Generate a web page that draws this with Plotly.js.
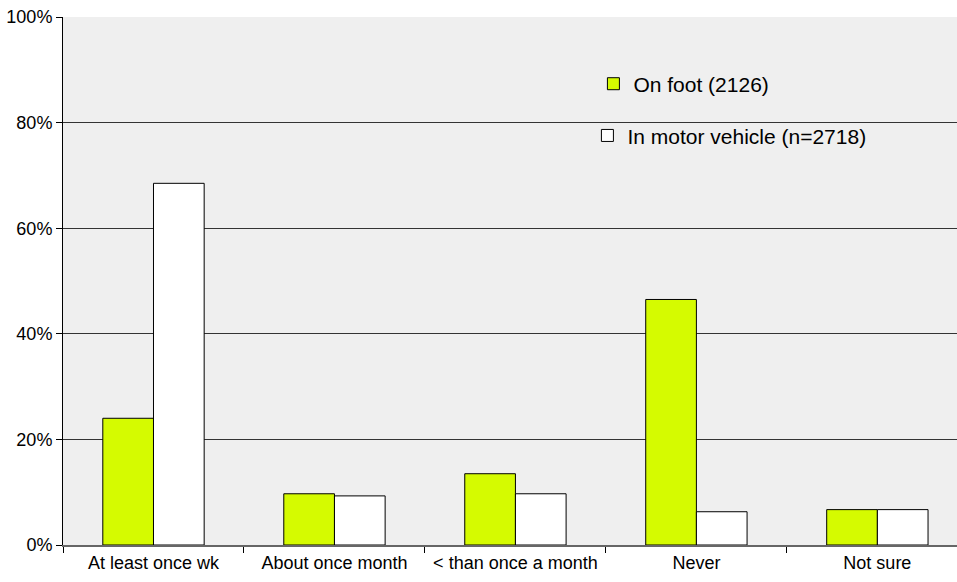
<!DOCTYPE html>
<html>
<head>
<meta charset="utf-8">
<script src="https://cdn.plot.ly/plotly-3.0.1.min.js"></script>
<style>html,body{margin:0;padding:0;background:#fff;}#chart{width:957px;height:582px;}</style>
</head>
<body>
<div id="chart"></div>
<script>
const categories = ["At least once wk", "About once month", "< than once a month", "Never", "Not sure"];
const onFoot = [0.240, 0.097, 0.135, 0.465, 0.067];
const inMotorVehicle = [0.685, 0.093, 0.097, 0.063, 0.067];
const seriesNames = ["On foot (2126)", "In motor vehicle (n=2718)"];
const yTickVals = [0, 0.2, 0.4, 0.6, 0.8, 1.0];
const yTickText = ["0%", "20%", "40%", "60%", "80%", "100%"];

const font = "Liberation Sans, Arial, sans-serif";

const traces = [
  {
    type: "bar", x: categories, y: onFoot, name: seriesNames[0],
    marker: {color: "#d5fb00", line: {color: "#000", width: 1}},
    legend: "legend", hoverinfo: "x+y"
  },
  {
    type: "bar", x: categories, y: inMotorVehicle, name: seriesNames[1],
    marker: {color: "#ffffff", line: {color: "#000", width: 1}},
    legend: "legend2", hoverinfo: "x+y"
  }
];

const layout = {
  width: 957, height: 582,
  margin: {l: 63, r: 0, t: 17, b: 37},
  paper_bgcolor: "#ffffff",
  plot_bgcolor: "#efefef",
  font: {family: font, size: 18, color: "#000"},
  barmode: "group", bargap: 0.44, bargroupgap: 0,
  showlegend: true,
  xaxis: {
    type: "category", range: [-0.5, 4.44],
    tickson: "boundaries", ticks: "outside", ticklen: 6, tickcolor: "#000",
    showline: true, linecolor: "#666", linewidth: 2,
    showgrid: false, zeroline: false,
    tickfont: {family: font, size: 18, color: "#000"}
  },
  yaxis: {
    range: [0, 1], tickvals: yTickVals, ticktext: yTickText,
    ticks: "outside", ticklen: 6, tickcolor: "#000",
    showline: true, linecolor: "#000", linewidth: 1,
    showgrid: true, gridcolor: "#333", gridwidth: 1,
    zeroline: false,
    tickfont: {family: font, size: 18, color: "#000"}
  },
  legend: {
    x: 0.5933, y: 0.873, xanchor: "left", yanchor: "middle",
    bgcolor: "rgba(0,0,0,0)", font: {family: font, size: 21, color: "#000"}
  },
  legend2: {
    x: 0.5866, y: 0.775, xanchor: "left", yanchor: "middle",
    bgcolor: "rgba(0,0,0,0)", font: {family: font, size: 21, color: "#000"}
  }
};

Plotly.newPlot("chart", traces, layout, {displayModeBar: false, staticPlot: true});
</script>
</body>
</html>
